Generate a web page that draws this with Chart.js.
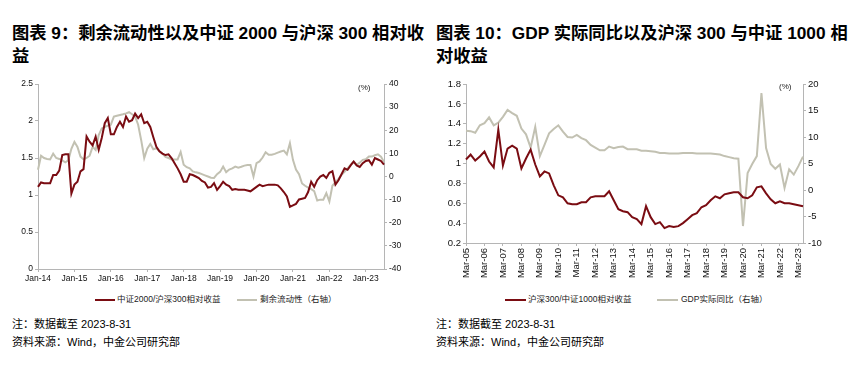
<!DOCTYPE html>
<html>
<head>
<meta charset="utf-8">
<script src="https://cdn.jsdelivr.net/npm/chart.js@4.4.0/dist/chart.umd.min.js"></script>
<style>
    body { margin: 0; background: #fff; }
    #page { position: relative; width: 865px; height: 365px; overflow: hidden;
            font-family: "Liberation Sans", "Noto Sans CJK SC", sans-serif; color: #000; }
    .title { position: absolute; top: 22px; font-size: 17.3px; font-weight: bold; line-height: 23px; white-space: nowrap; }
    .note { position: absolute; font-size: 11px; line-height: 13px; white-space: nowrap; }
    .box { position: absolute; top: 70px; width: 432px; height: 216px; }
    .unit { position: absolute; font-size: 8px; color: #222; }
    .leg { position: absolute; top: 294px; font-size: 8.5px; line-height: 11px; white-space: nowrap; color: #222; }
    .leg i { position: absolute; height: 2px; top: 5px; }
</style>
</head>
<body>
<div id="page">
    <div class="title" style="left:12px;">图表 9：剩余流动性以及中证 2000 与沪深 300 相对收<br>益</div>
    <div class="title" style="left:436px;">图表 10：GDP 实际同比以及沪深 300 与中证 1000 相<br>对收益</div>

    <div class="box" style="left:0;"><canvas id="chart1" width="432" height="216"></canvas></div>
    <div class="box" style="left:433px;"><canvas id="chart2" width="432" height="216"></canvas></div>

    <span class="unit" style="left:358px; top:83px;">(%)</span>
    <span class="unit" style="left:779px; top:82px;">(%)</span>

    <div class="leg" style="left:95px;"><i style="left:0; width:20px; background:#7a0c12;"></i><span style="margin-left:22px;">中证2000/沪深300相对收益</span></div>
    <div class="leg" style="left:237px;"><i style="left:0; width:20px; background:#c2c1b2;"></i><span style="margin-left:23px;">剩余流动性（右轴）</span></div>
    <div class="leg" style="left:505px;"><i style="left:0; width:21px; background:#7a0c12;"></i><span style="margin-left:23px;">沪深300/中证1000相对收益</span></div>
    <div class="leg" style="left:657px;"><i style="left:0; width:21px; background:#c2c1b2;"></i><span style="margin-left:24px;">GDP实际同比（右轴）</span></div>

    <div class="note" style="left:12px; top:318px;">注：数据截至 2023-8-31</div>
    <div class="note" style="left:12px; top:336px;">资料来源：Wind，中金公司研究部</div>
    <div class="note" style="left:436px; top:318px;">注：数据截至 2023-8-31</div>
    <div class="note" style="left:436px; top:336px;">资料来源：Wind，中金公司研究部</div>
</div>

<script>
// chart 1: monthly, Jan-14 .. Jul-23
const relative2000 = [
    1.11, 1.17, 1.16, 1.16, 1.16, 1.27, 1.27, 1.33, 1.54, 1.55,
    1.55, 1.02, 1.14, 1.18, 1.32, 1.35, 1.79, 1.72, 1.67, 1.79,
    1.61, 1.77, 1.97, 2.04, 1.82, 1.82, 1.92, 1.99, 1.92, 2.06,
    1.99, 2.01, 2.10, 2.04, 2.09, 1.97, 1.99, 1.92, 1.78, 1.65,
    1.59, 1.56, 1.54, 1.55, 1.50, 1.43, 1.36, 1.28, 1.18, 1.18,
    1.28, 1.27, 1.25, 1.23, 1.19, 1.17, 1.10, 1.11, 1.16, 1.07,
    1.12, 1.18, 1.14, 1.12, 1.07, 1.08, 1.07, 1.07, 1.07, 1.06,
    1.05, 1.08, 1.11, 1.14, 1.12, 1.13, 1.14, 1.14, 1.14, 1.13,
    1.09, 1.04, 0.98, 0.84, 0.86, 0.88, 0.94, 0.95, 0.96, 1.04,
    1.18, 1.11, 1.20, 1.25, 1.27, 1.23, 1.30, 1.32, 1.14, 1.20,
    1.28, 1.36, 1.34, 1.40, 1.45, 1.40, 1.38, 1.43, 1.46, 1.47,
    1.41, 1.50, 1.48, 1.46, 1.41
];
const excessLiquidity = [
    2.9, 9.0, 8.0, 7.6, 7.4, 9.9, 8.0, 7.6, 7.0, 6.1,
    7.0, 12.0, 15.0, 12.8, 8.6, 7.4, 8.0, 9.0, 12.8, 11.5,
    17.9, 20.8, 21.4, 22.0, 22.4, 25.9, 26.3, 26.6, 26.9, 27.3,
    27.8, 26.9, 25.9, 22.4, 15.7, 8.0, 12.0, 14.1, 11.8, 12.2,
    11.0, 9.9, 8.5, 8.0, 7.4, 7.4, 7.4, 10.6, 5.1, 4.0,
    3.5, 2.2, 1.8, 1.5, 1.0, 0.5, 0.0, -0.5, -0.6, 1.0,
    2.0, 4.3, 1.9, 3.0, 3.5, 4.3, 3.8, 4.2, 4.7, 5.0,
    5.0, 0.0, 5.8, 6.5, 8.2, 10.5, 9.4, 9.4, 9.8, 10.3,
    10.8, 11.2, 9.6, 14.4, 7.2, 3.0, 1.0, -3.0, -4.0, -4.8,
    -5.5, -6.3, -10.4, -10.0, -10.0, -7.2, -10.8, -4.0, -2.5, -1.0,
    0.7, 2.0, 3.5, 5.0, 6.5, 5.0, 6.0, 7.2, 7.5, 8.6,
    8.6, 9.2, 9.6, 8.6, 6.3
];

// chart 2: quarterly, Mar-05 .. Jun-23
const relative1000 = [
    1.04, 1.09, 1.03, 1.07, 1.12, 1.02, 0.96, 1.34, 0.98, 1.15,
    1.18, 1.15, 0.95, 1.05, 1.14, 0.99, 0.87, 0.92, 0.90, 0.78,
    0.68, 0.66, 0.60, 0.59, 0.59, 0.61, 0.61, 0.66, 0.67, 0.67,
    0.67, 0.72, 0.63, 0.54, 0.52, 0.51, 0.46, 0.44, 0.39, 0.57,
    0.46, 0.39, 0.41, 0.35, 0.37, 0.36, 0.37, 0.40, 0.44, 0.48,
    0.50, 0.56, 0.58, 0.63, 0.67, 0.65, 0.69, 0.70, 0.71, 0.71,
    0.66, 0.65, 0.68, 0.76, 0.77, 0.70, 0.64, 0.60, 0.62, 0.60,
    0.60, 0.59, 0.58, 0.57
];
const gdpYoy = [
    11.2, 11.1, 10.8, 12.2, 12.6, 13.7, 12.2, 12.7, 13.8, 15.1,
    14.5, 14.0, 11.6, 10.5, 8.0, 11.9, 6.4, 8.5, 10.7, 11.5,
    12.2, 11.0, 10.0, 9.9, 10.4, 9.8, 9.4, 8.5, 8.0, 7.5,
    7.5, 8.2, 7.9, 8.1, 8.2, 7.7, 7.7, 7.7, 7.4, 7.4,
    7.3, 7.2, 7.0, 7.0, 6.9, 6.9, 6.9, 7.0, 7.0, 7.0,
    6.9, 6.9, 6.9, 6.9, 6.8, 6.7, 6.4, 6.2, 6.0, 5.9,
    -6.8, 3.2, 4.9, 6.4, 18.3, 7.9, 4.9, 4.0, 4.8, 0.4,
    3.9, 2.9, 4.5, 6.3
];

const monthNames = ['Jan', 'Feb', 'Mar', 'Apr', 'May', 'Jun', 'Jul', 'Aug', 'Sep', 'Oct', 'Nov', 'Dec'];

function makeLabels(startYear, startMonth, stepMonths, count) {
    const out = [];
    for (let i = 0; i < count; i++) {
        const m = startMonth + i * stepMonths;
        const y = startYear + Math.floor(m / 12);
        out.push(monthNames[m % 12] + '-' + String(y % 100).padStart(2, '0'));
    }
    return out;
}

const monthLabels = makeLabels(2014, 0, 1, relative2000.length);
const quarterLabels = makeLabels(2005, 2, 3, relative1000.length);

const RED = '#7a0c12';
const GRAY = '#c2c1b2';
const AXIS = '#b5b5b5';
const FONT = '"Liberation Sans", "Noto Sans CJK SC", sans-serif';

function keepTicks(prefix) {
    return scale => {
        const labels = scale.getLabels();
        scale.ticks = scale.ticks.filter(t => labels[t.value].startsWith(prefix));
    };
}

function yAxis(position, min, max, step, width, size) {
    return {
        position: position,
        min: min,
        max: max,
        grid: { drawOnChartArea: false, tickLength: 3, color: AXIS },
        border: { color: AXIS },
        ticks: {
            stepSize: step,
            padding: 2,
            color: '#111',
            font: { family: FONT, size: size },
            callback: v => String(Number(v.toFixed(2)))
        },
        afterFit: scale => { scale.width = width; }
    };
}

new Chart(document.getElementById('chart1'), {
    type: 'line',
    data: {
        labels: monthLabels,
        datasets: [
            {
                label: '中证2000/沪深300相对收益',
                data: relative2000,
                borderColor: RED,
                borderWidth: 2,
                pointRadius: 0,
                yAxisID: 'y'
            },
            {
                label: '剩余流动性（右轴）',
                data: excessLiquidity,
                borderColor: GRAY,
                borderWidth: 2,
                pointRadius: 0,
                yAxisID: 'y1'
            }
        ]
    },
    options: {
        responsive: false,
        animation: false,
        layout: { padding: { top: 14, left: 0, right: 0, bottom: 0 } },
        plugins: { legend: { display: false }, tooltip: { enabled: false } },
        scales: {
            x: {
                grid: { drawOnChartArea: false, tickLength: 3, color: AXIS },
                border: { color: AXIS },
                ticks: { autoSkip: false, maxRotation: 0, minRotation: 0, padding: 2, color: '#111', font: { family: FONT, size: 8.5 } },
                afterBuildTicks: keepTicks('Jan'),
                afterFit: scale => { scale.height = 17; }
            },
            y: yAxis('left', 0, 2.5, 0.5, 38, 8.5),
            y1: yAxis('right', -40, 40, 10, 48, 8.5)
        }
    }
});

new Chart(document.getElementById('chart2'), {
    type: 'line',
    data: {
        labels: quarterLabels,
        datasets: [
            {
                label: '沪深300/中证1000相对收益',
                data: relative1000,
                borderColor: RED,
                borderWidth: 2,
                pointRadius: 0,
                yAxisID: 'y'
            },
            {
                label: 'GDP实际同比（右轴）',
                data: gdpYoy,
                borderColor: GRAY,
                borderWidth: 2,
                pointRadius: 0,
                yAxisID: 'y1'
            }
        ]
    },
    options: {
        responsive: false,
        animation: false,
        layout: { padding: { top: 14, left: 0, right: 0, bottom: 0 } },
        plugins: { legend: { display: false }, tooltip: { enabled: false } },
        scales: {
            x: {
                grid: { drawOnChartArea: false, tickLength: 3, color: AXIS },
                border: { color: AXIS },
                ticks: { autoSkip: false, maxRotation: 90, minRotation: 90, padding: 2, color: '#111', font: { family: FONT, size: 9.5 } },
                afterBuildTicks: keepTicks('Mar'),
                afterFit: scale => { scale.height = 43; }
            },
            y: yAxis('left', 0.2, 1.8, 0.2, 33, 9.5),
            y1: yAxis('right', -10, 20, 5, 62, 9.5)
        }
    }
});
</script>
</body>
</html>
